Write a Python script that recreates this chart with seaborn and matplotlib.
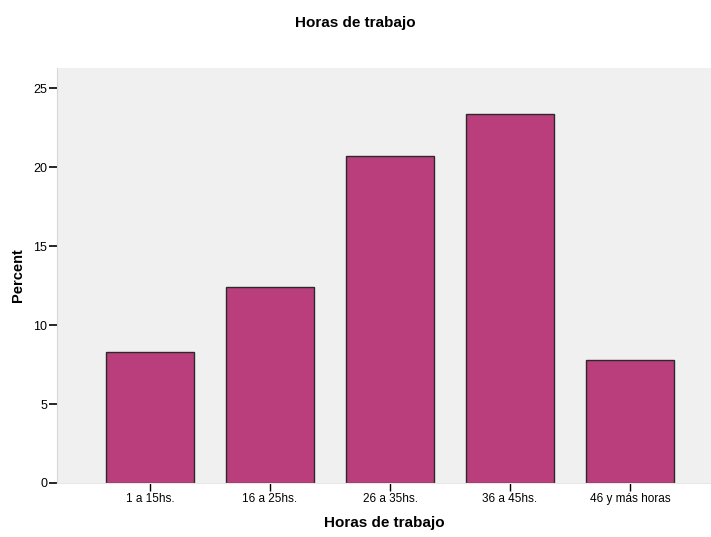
import pandas as pd
import matplotlib
matplotlib.use('Agg')
import matplotlib.pyplot as plt
import seaborn as sns

# datos
categorias = ['1 a 15hs.', '16 a 25hs.', '26 a 35hs.', '36 a 45hs.', '46 y más horas']
porcentajes = [8.3, 12.4, 20.7, 23.4, 7.8]

df = pd.DataFrame({'horas': categorias, 'percent': porcentajes})

sns.set_style('white')
plt.rcParams['font.family'] = ['Liberation Sans', 'DejaVu Sans']
plt.rcParams['text.color'] = 'black'
plt.rcParams['axes.labelcolor'] = 'black'
plt.rcParams['xtick.color'] = 'black'
plt.rcParams['ytick.color'] = 'black'

fig = plt.figure(figsize=(7.11, 5.37), dpi=100)
ax = fig.add_axes([0.0802, 0.1006, 0.9198, 0.7728])
ax.set_facecolor('#f0f0f0')

sns.barplot(data=df, x='horas', y='percent', color='#ba3e7c', saturation=1,
            width=0.74, edgecolor='#2a2a2a', linewidth=1.0, ax=ax)

ax.set_xlim(-0.775, 4.675)
ax.set_ylim(0, 26.3)
ax.set_yticks([0, 5, 10, 15, 20, 25])

for s in ['top', 'right']:
    ax.spines[s].set_visible(False)
ax.spines['left'].set_color('#d8d8d8')
ax.spines['bottom'].set_color('#e8e8e8')

ax.tick_params(axis='y', direction='out', length=6, width=1.2, color='black', labelsize=9, pad=1, left=True)
ax.tick_params(axis='x', direction='out', length=6, width=1, color='black', labelsize=8.5, pad=1, bottom=True)

ax.set_xlabel('Horas de trabajo', fontsize=11, fontweight='bold', labelpad=8)
ax.set_ylabel('Percent', fontsize=10.5, fontweight='bold', labelpad=6)
fig.suptitle('Horas de trabajo', fontsize=11, fontweight='bold', y=0.97)

plt.savefig('out.png', dpi=100)
